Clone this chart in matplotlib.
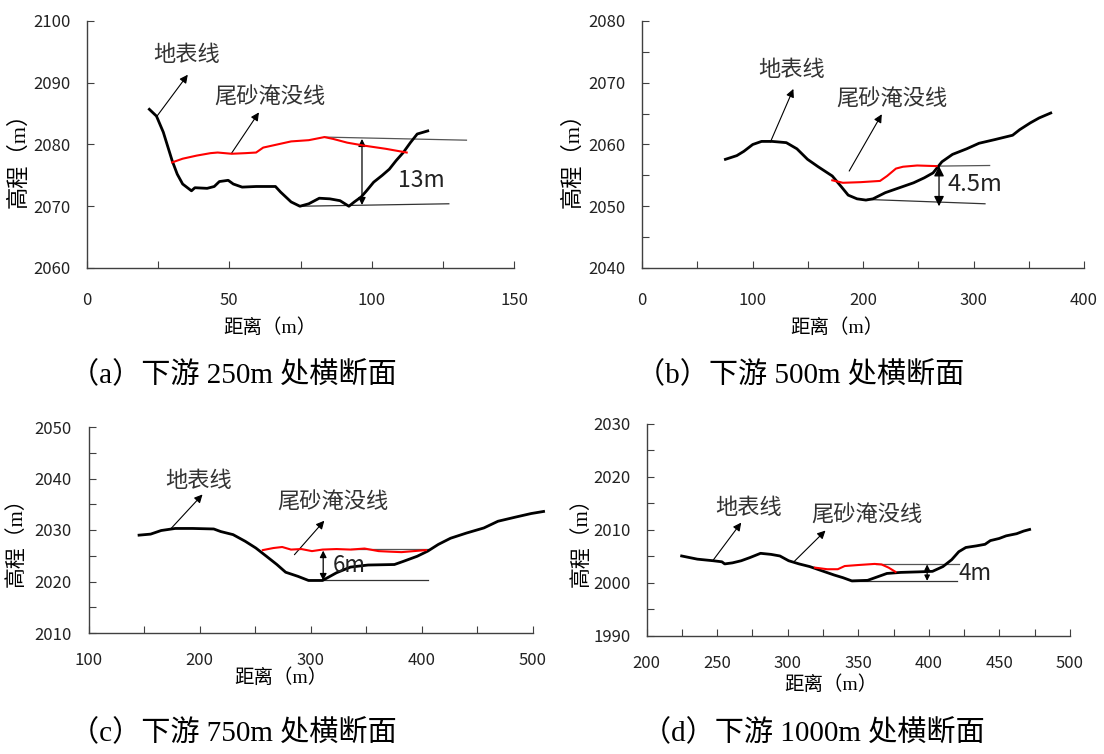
import numpy as np
import matplotlib.pyplot as plt
from matplotlib.ticker import MultipleLocator

plt.rcParams['font.family'] = ['Noto Sans CJK SC', 'DejaVu Sans']

# (a) 下游 250m 处横断面
a_x = [21.9, 24.4, 26.8, 29.9, 31.7, 33.6, 36.7, 37.9, 42.2, 44.7, 46.5, 49.6, 51.4, 54.5,
       59.4, 66.2, 68.0, 71.7, 74.8, 77.9, 81.6, 85.3, 88.9, 92.0, 93.9, 96.3, 98.2, 100.7,
       103.7, 106.2, 108.6, 111.1, 113.6, 116.0, 119.7]
a_ground = [2085.7, 2084.6, 2082.0, 2077.4, 2075.2, 2073.6, 2072.5, 2073.0, 2072.9, 2073.2,
            2074.0, 2074.2, 2073.6, 2073.1, 2073.2, 2073.2, 2072.3, 2070.7, 2070.0, 2070.4,
            2071.3, 2071.2, 2070.9, 2070.0, 2070.7, 2071.5, 2072.5, 2073.9, 2075.0, 2076.0,
            2077.4, 2078.7, 2080.3, 2081.7, 2082.2]
a_tx = [29.9, 33.6, 38.5, 43.4, 45.9, 50.8, 55.7, 59.4, 61.9, 66.8, 71.7, 77.9, 83.4, 86.5,
        91.4, 97.6, 105.0, 112.3]
a_tail = [2077.1, 2077.7, 2078.2, 2078.6, 2078.7, 2078.5, 2078.6, 2078.7, 2079.5, 2080.0,
          2080.5, 2080.7, 2081.2, 2080.9, 2080.3, 2079.8, 2079.3, 2078.7]

# (b) 下游 500m 处横断面
b_x = [75.5, 85.8, 92.2, 100.2, 108.2, 117.8, 130.6, 140.2, 149.8, 159.4, 172.2, 180.2, 186.6,
       194.6, 202.6, 209.0, 220.2, 233.0, 245.8, 255.4, 263.4, 271.4, 281.0, 293.8, 305.0,
       319.4, 335.4, 341.8, 351.4, 359.4, 369.9]
b_ground = [2057.6, 2058.2, 2058.9, 2060.0, 2060.5, 2060.5, 2060.3, 2059.3, 2057.6, 2056.4,
            2054.9, 2053.2, 2051.8, 2051.2, 2051.0, 2051.2, 2052.2, 2053.0, 2053.8, 2054.6,
            2055.4, 2057.2, 2058.4, 2059.3, 2060.2, 2060.8, 2061.5, 2062.4, 2063.5, 2064.3,
            2065.1]
b_tx = [172.2, 181.8, 197.8, 215.4, 221.8, 229.8, 236.2, 249.0, 266.6]
b_tail = [2054.2, 2053.8, 2053.9, 2054.1, 2054.9, 2056.1, 2056.4, 2056.6, 2056.5]

# (c) 下游 750m 处横断面
c_x = [145.5, 155.9, 165.4, 178.0, 193.8, 212.7, 219.0, 230.1, 241.1, 250.6, 260.1, 269.5,
       277.4, 288.5, 298.0, 310.6, 323.2, 335.8, 351.6, 375.3, 383.2, 395.8, 405.3, 414.8,
       425.8, 440.0, 455.8, 468.5, 484.2, 498.4, 509.5]
c_ground = [2029.0, 2029.2, 2029.9, 2030.3, 2030.3, 2030.2, 2029.7, 2029.1, 2027.8, 2026.5,
            2024.9, 2023.3, 2021.8, 2021.0, 2020.2, 2020.2, 2021.7, 2022.8, 2023.2, 2023.3,
            2023.9, 2024.9, 2025.9, 2027.2, 2028.4, 2029.4, 2030.4, 2031.7, 2032.5, 2033.2,
            2033.6]
c_tx = [256.9, 266.4, 274.3, 282.2, 291.6, 301.1, 310.6, 323.2, 335.8, 348.4, 361.1, 370.6,
        381.6, 392.7, 403.7]
c_tail = [2026.1, 2026.5, 2026.7, 2026.2, 2026.3, 2025.9, 2026.2, 2026.3, 2026.2, 2026.4,
          2025.9, 2025.8, 2025.7, 2025.9, 2026.1]

# (d) 下游 1000m 处横断面
d_x = [224.9, 236.0, 247.2, 253.4, 255.4, 260.9, 267.1, 273.3, 280.8, 288.2, 294.5, 300.7,
       308.1, 315.6, 324.3, 333.0, 339.2, 345.4, 356.6, 364.0, 370.3, 380.2, 392.6, 402.6,
       410.0, 416.2, 421.2, 426.2, 433.6, 439.8, 443.6, 449.8, 454.8, 462.2, 467.2, 471.4]
d_ground = [2005.1, 2004.5, 2004.2, 2004.0, 2003.6, 2003.8, 2004.2, 2004.8, 2005.6, 2005.4,
            2005.1, 2004.2, 2003.6, 2003.1, 2002.3, 2001.5, 2001.0, 2000.4, 2000.5, 2001.2,
            2001.8, 2002.0, 2002.1, 2002.2, 2003.1, 2004.4, 2005.9, 2006.7, 2007.0, 2007.3,
            2008.0, 2008.4, 2008.9, 2009.3, 2009.8, 2010.1]
d_tx = [319.3, 328.0, 335.5, 340.4, 350.4, 361.6, 366.5, 371.5, 376.4]
d_tail = [2002.9, 2002.6, 2002.6, 2003.2, 2003.4, 2003.6, 2003.5, 2002.9, 2002.1]

captions = ['（a）下游 250m 处横断面', '（b）下游 500m 处横断面',
            '（c）下游 750m 处横断面', '（d）下游 1000m 处横断面']
depths = ['13m', '4.5m', '6m', '4m']

W, H = 1104, 754
fig = plt.figure(figsize=(W / 100, H / 100), dpi=100)


def box(l, t, r, b):
    return [l / W, 1 - b / H, (r - l) / W, (b - t) / H]


def fxy(x, y):
    return x / W, 1 - y / H


panels = [
    dict(x=a_x, g=a_ground, tx=a_tx, t=a_tail, box=box(87, 21, 514, 268),
         xlim=(0, 150), ylim=(2060, 2100), xmaj=50, xmin=25, ymaj=10, ymin=None,
         up=([83.4, 133.3], [2081.2, 2080.7]), low=([74.8, 127.1], [2070.0, 2070.4]),
         arr=(96.6, 2070.2, 2080.9), dpos=(109.3, 2074.2), dsize=16.5, ms=11,
         lab1=(35.1, 2094.6), arr1=((24.6, 2084.6), (35.4, 2091.3)),
         lab2=(64.4, 2087.6), arr2=((50.8, 2078.6), (60.4, 2085.2)),
         xpad=17, ypad=11.5, tsize=12, ylsize=16, xl=(270, 328), yl=(19, 155), cap=(70, 375)),
    dict(x=b_x, g=b_ground, tx=b_tx, t=b_tail, box=box(642, 21, 1084, 268),
         xlim=(0, 400), ylim=(2040, 2080), xmaj=100, xmin=50, ymaj=10, ymin=5,
         up=([266.6, 314.6], [2056.5, 2056.6]), low=([204.2, 310.4], [2051.1, 2050.4]),
         arr=(268.8, 2050.0, 2056.5), dpos=(276.2, 2053.6), dsize=17, ms=15,
         lab1=(135.4, 2072.2), arr1=((116.2, 2060.4), (137.0, 2069.0)),
         lab2=(226.6, 2067.3), arr2=((187.5, 2055.7), (217.0, 2064.9)),
         xpad=17, ypad=11.5, tsize=12, ylsize=16, xl=(837, 328), yl=(573, 155), cap=(636, 375)),
    dict(x=c_x, g=c_ground, tx=c_tx, t=c_tail, box=box(88.5, 427, 533, 633),
         xlim=(100, 500), ylim=(2010, 2050), xmaj=100, xmin=50, ymaj=10, ymin=5,
         up=([335.8, 405.3], [2026.3, 2026.3]), low=([298.0, 405.3], [2020.2, 2020.2]),
         arr=(311.2, 2020.2, 2026.0), dpos=(320.0, 2023.1), dsize=16, ms=10,
         lab1=(199.1, 2039.6), arr1=((173.9, 2030.2), (202.6, 2036.9)),
         lab2=(320.0, 2035.4), arr2=((285.3, 2025.2), (312.2, 2031.8)),
         xpad=14, ypad=12, tsize=12, ylsize=15, xl=(281, 678), yl=(17, 537), cap=(70, 733)),
    dict(x=d_x, g=d_ground, tx=d_tx, t=d_tail, box=box(646.5, 424, 1070, 636),
         xlim=(200, 500), ylim=(1990, 2030), xmaj=50, xmin=25, ymaj=10, ymin=5,
         up=([362.8, 421.2], [2003.5, 2003.5]), low=([345.4, 420.0], [2000.4, 2000.4]),
         arr=(398.8, 2000.4, 2003.5), dpos=(421.2, 2001.8), dsize=16, ms=8,
         lab1=(272.6, 2014.3), arr1=((247.2, 2004.3), (267.1, 2011.4)),
         lab2=(355.8, 2012.8), arr2=((304.4, 2004.0), (326.8, 2009.9)),
         xpad=14, ypad=11.5, tsize=12, ylsize=15, xl=(831, 685), yl=(582, 537), cap=(642, 733)),
]

cjk = ['Noto Sans CJK SC', 'DejaVu Sans']
serif = ['Liberation Serif', 'Noto Sans CJK SC']

for i, p in enumerate(panels):
    ax = fig.add_axes(p['box'])
    ax.set_xlim(*p['xlim'])
    ax.set_ylim(*p['ylim'])
    for s in ['top', 'right']:
        ax.spines[s].set_visible(False)
    for s in ['left', 'bottom']:
        ax.spines[s].set_color('#404040')
        ax.spines[s].set_linewidth(1.0)

    ax.xaxis.set_major_locator(MultipleLocator(p['xmaj']))
    ax.xaxis.set_minor_locator(MultipleLocator(p['xmin']))
    ax.yaxis.set_major_locator(MultipleLocator(p['ymaj']))
    if p['ymin']:
        ax.yaxis.set_minor_locator(MultipleLocator(p['ymin']))
    ax.tick_params(which='both', direction='in', length=5, width=0.8, color='#404040',
                   labelcolor='#222222', labelsize=p['tsize'])
    ax.tick_params(axis='x', which='major', pad=p['xpad'])
    ax.tick_params(axis='y', which='major', pad=p['ypad'])

    # ground line and tailings line
    ax.plot(p['x'], p['g'], color='black', lw=2.0, clip_on=False, zorder=3)
    ax.plot(p['tx'], p['t'], color='red', lw=1.5, zorder=4)

    # reference lines and depth arrow
    ax.plot(*p['up'], color='#555555', lw=0.9, zorder=2)
    ax.plot(*p['low'], color='#333333', lw=0.9, zorder=2)
    ax_x, y0, y1 = p['arr']
    ax.annotate('', xy=(ax_x, y1), xytext=(ax_x, y0),
                arrowprops=dict(arrowstyle='<|-|>', color='black', lw=0.9,
                                mutation_scale=p['ms'], shrinkA=0, shrinkB=0))
    ax.text(*p['dpos'], depths[i], fontsize=p['dsize'], ha='left', va='center',
            color='#222222')

    # labels with pointer arrows
    ax.text(*p['lab1'], '地表线', family=cjk, fontsize=16, ha='center', va='center',
            color='#333333')
    ax.text(*p['lab2'], '尾砂淹没线', family=cjk, fontsize=16, ha='center', va='center',
            color='#333333')
    for tail, head in [p['arr1'], p['arr2']]:
        ax.annotate('', xy=head, xytext=tail,
                    arrowprops=dict(arrowstyle='-|>', color='black', lw=0.8,
                                    mutation_scale=12, shrinkA=0, shrinkB=0))

    ax.set_xlabel('距离（m）', family=serif, fontsize=14)
    ax.set_ylabel('高程（m）', family=serif, fontsize=p['ylsize'])
    ax.xaxis.set_label_coords(*fxy(*p['xl']), transform=fig.transFigure)
    ax.yaxis.set_label_coords(*fxy(*p['yl']), transform=fig.transFigure)
    ax.xaxis.label.set_va('center')
    ax.yaxis.label.set_va('center')

    fig.text(*fxy(*p['cap']), captions[i], family=serif, fontsize=21, fontweight='light',
             ha='left', va='center', color='black')

fig.savefig('out.png', dpi=100)
